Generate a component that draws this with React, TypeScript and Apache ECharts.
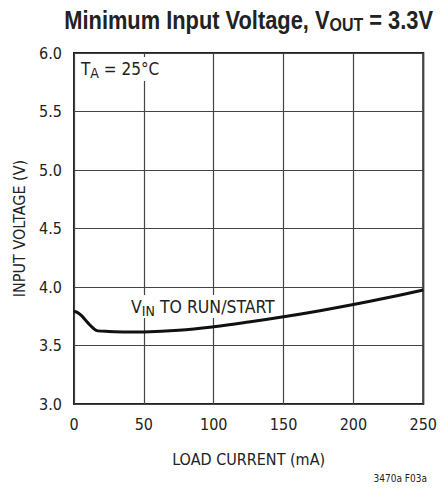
import React, { useEffect, useRef } from "react";
import * as echarts from "echarts";

const loadCurrent = [0, 2, 5, 8, 11, 14, 17, 25, 40, 50, 75, 100, 125, 150, 175, 200, 225, 250];
const inputVoltage = [3.79, 3.785, 3.76, 3.72, 3.68, 3.645, 3.625, 3.62, 3.615, 3.616, 3.63, 3.66, 3.7, 3.745, 3.795, 3.85, 3.91, 3.975];
const xTicks = [0, 50, 100, 150, 200, 250];
const yTicks = [3.0, 3.5, 4.0, 4.5, 5.0, 5.5, 6.0];

const FONT = "'DejaVu Sans Condensed', 'Liberation Sans', Arial, sans-serif";
const TFONT = "'Liberation Sans', Arial, sans-serif";

export default function App() {
  const ref = useRef<HTMLDivElement>(null);
  useEffect(() => {
    document.body.style.margin = "0";
    const chart = echarts.init(ref.current!, null, { renderer: "svg" });
    const data = loadCurrent.map((x, i) => [x, inputVoltage[i]]);
    chart.setOption({
      animation: false,
      backgroundColor: "#fff",
      textStyle: { fontFamily: FONT, color: "#222" },
      grid: {
        left: 74,
        right: 14,
        top: 53,
        bottom: 85,
        show: true,
        borderColor: "#222",
        borderWidth: 2,
        backgroundColor: "#fff",
      },
      xAxis: {
        type: "value",
        min: xTicks[0],
        max: xTicks[xTicks.length - 1],
        interval: 50,
        name: "LOAD CURRENT (mA)",
        nameLocation: "middle",
        nameGap: 47,
        nameTextStyle: { fontFamily: FONT, fontSize: 16, color: "#222" },
        axisLine: { show: false },
        axisTick: { show: false },
        axisLabel: { fontFamily: FONT, fontSize: 16, color: "#222", margin: 12 },
        splitLine: { show: true, lineStyle: { color: "#444", width: 1.2 } },
      },
      yAxis: {
        type: "value",
        min: yTicks[0],
        max: yTicks[yTicks.length - 1],
        interval: 0.5,
        name: "INPUT VOLTAGE (V)",
        nameLocation: "middle",
        nameGap: 47,
        nameTextStyle: { fontFamily: FONT, fontSize: 16, color: "#222" },
        axisLine: { show: false },
        axisTick: { show: false },
        axisLabel: { fontFamily: FONT, fontSize: 16, color: "#222", margin: 12, formatter: (v: number) => v.toFixed(1) },
        splitLine: { show: true, lineStyle: { color: "#444", width: 1.2 } },
      },
      series: [
        {
          type: "line",
          data,
          smooth: 0.4,
          showSymbol: false,
          symbol: "none",
          lineStyle: { color: "#111", width: 3 },
          z: 5,
        },
      ],
      graphic: [
        {
          type: "text",
          x: 433,
          y: 5,
          scaleX: 0.84,
          z: 100,
          style: {
            text: "{a|Minimum Input Voltage, V}{s|OUT}{a| = 3.3V}",
            align: "right",
            verticalAlign: "top",
            rich: {
              a: { fontFamily: TFONT, fontSize: 26, fontWeight: "bold", fill: "#222" },
              s: { fontFamily: TFONT, fontSize: 19, fontWeight: "bold", fill: "#222", padding: [10, 0, 0, 0] },
            },
          },
        },
        {
          type: "text",
          left: 79,
          top: 57,
          z: 1,
          style: {
            text: "{a|T}{s|A}{a| = 25°C}",
            backgroundColor: "#fff",
            padding: [1, 2, 1, 2],
            rich: {
              a: { fontFamily: FONT, fontSize: 17, fill: "#222" },
              s: { fontFamily: FONT, fontSize: 14, fill: "#222", padding: [8, 0, 0, 0] },
            },
          },
        },
        {
          type: "text",
          left: 129,
          top: 295,
          z: 1,
          style: {
            text: "{a|V}{s|IN}{a| TO RUN/START}",
            backgroundColor: "#fff",
            padding: [1, 2, 0, 2],
            rich: {
              a: { fontFamily: FONT, fontSize: 17.5, fill: "#222" },
              s: { fontFamily: FONT, fontSize: 14, fill: "#222", padding: [8, 0, 0, 0] },
            },
          },
        },
        {
          type: "text",
          right: 13,
          top: 473,
          z: 100,
          style: { text: "3470a F03a", fontFamily: FONT, fontSize: 10, fill: "#222" },
        },
      ],
    });
    return () => chart.dispose();
  }, []);
  return <div ref={ref} style={{ width: 440, height: 489 }} />;
}
